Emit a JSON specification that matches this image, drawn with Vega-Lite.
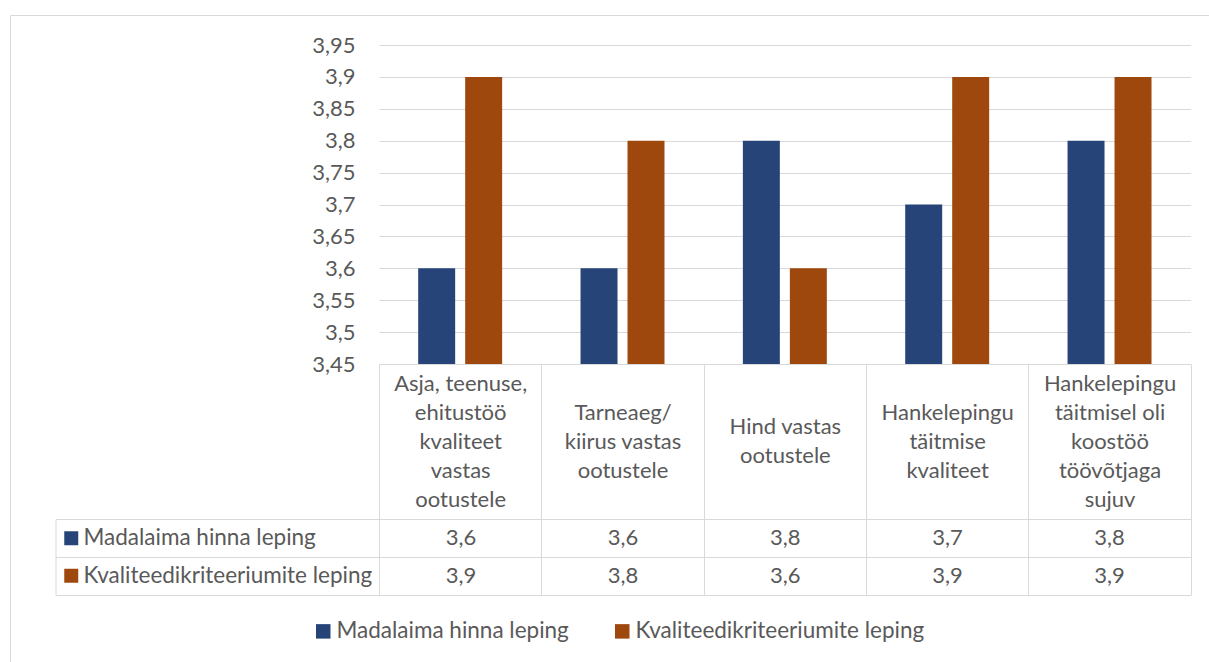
{
  "$schema": "https://vega.github.io/schema/vega-lite/v6.json",
  "width": 1199,
  "height": 647,
  "autosize": {"type": "none"},
  "padding": {"left": 10, "top": 15, "right": 0, "bottom": 0},
  "background": "white",
  "config": {
    "view": {"stroke": "#D9D9D9", "strokeWidth": 1},
    "font": "Lato",
    "locale": {"number": {"decimal": ",", "thousands": "\u00a0", "grouping": [3], "currency": ["", "\u00a0€"]}},
    "axis": {"labelFont": "Lato", "labelFontSize": 22, "labelColor": "#595959"},
    "legend": {"labelFont": "Lato", "labelFontSize": 22.5, "labelColor": "#595959", "labelLimit": 0}
  },
  "data": {"values": [
    {"category": "Asja, teenuse,\nehitustöö\nkvaliteet\nvastas\nootustele", "series": "Madalaima hinna leping", "value": 3.6},
    {"category": "Asja, teenuse,\nehitustöö\nkvaliteet\nvastas\nootustele", "series": "Kvaliteedikriteeriumite leping", "value": 3.9},
    {"category": "Tarneaeg/\nkiirus vastas\nootustele", "series": "Madalaima hinna leping", "value": 3.6},
    {"category": "Tarneaeg/\nkiirus vastas\nootustele", "series": "Kvaliteedikriteeriumite leping", "value": 3.8},
    {"category": "Hind vastas\nootustele", "series": "Madalaima hinna leping", "value": 3.8},
    {"category": "Hind vastas\nootustele", "series": "Kvaliteedikriteeriumite leping", "value": 3.6},
    {"category": "Hankelepingu\ntäitmise\nkvaliteet", "series": "Madalaima hinna leping", "value": 3.7},
    {"category": "Hankelepingu\ntäitmise\nkvaliteet", "series": "Kvaliteedikriteeriumite leping", "value": 3.9},
    {"category": "Hankelepingu\ntäitmisel oli\nkoostöö\ntöövõtjaga\nsujuv", "series": "Madalaima hinna leping", "value": 3.8},
    {"category": "Hankelepingu\ntäitmisel oli\nkoostöö\ntöövõtjaga\nsujuv", "series": "Kvaliteedikriteeriumite leping", "value": 3.9}
  ]},
  "resolve": {"scale": {"x": "independent", "y": "independent"}},
  "layer": [
    {
      "mark": {"type": "bar", "strokeWidth": 0},
      "encoding": {
        "x": {
          "field": "category", "type": "nominal", "sort": null,
          "scale": {"type": "band", "range": [369, 1180.7], "paddingInner": 0, "paddingOuter": 0},
          "axis": {
            "orient": "bottom", "offset": -298, "title": null,
            "domain": true, "domainColor": "#D9D9D9", "domainWidth": 1,
            "ticks": true, "tickBand": "extent", "tickSize": 231, "tickColor": "#D9D9D9", "tickWidth": 1,
            "labelExpr": "split(datum.label, '\\n')", "labelAngle": 0, "labelAlign": "center",
            "labelBaseline": "middle", "labelLineHeight": 29,
            "labelPadding": {"expr": "-154 - (length(split(datum.label, '\\n')) - 1) * 14.5"},
            "labelLimit": 0, "labelOverlap": false, "grid": false
          }
        },
        "xOffset": {"field": "series", "type": "nominal", "sort": null, "scale": {"paddingInner": 0.2128, "paddingOuter": 0.834}},
        "y": {
          "field": "value", "type": "quantitative",
          "scale": {"domain": [3.45, 3.95], "range": [349, 30], "nice": false, "zero": false},
          "axis": {
            "orient": "left", "offset": -369, "title": null,
            "values": [3.45, 3.5, 3.55, 3.6, 3.65, 3.7, 3.75, 3.8, 3.85, 3.9, 3.95],
            "format": ".3~r", "domain": false, "ticks": false, "tickSize": 0, "labelPadding": 24,
            "grid": true, "gridColor": "#D9D9D9", "gridWidth": 1
          }
        },
        "y2": {"datum": 3.45},
        "color": {
          "field": "series", "type": "nominal",
          "scale": {"domain": ["Madalaima hinna leping", "Kvaliteedikriteeriumite leping"], "range": ["#264478", "#9E480E"]},
          "legend": {
            "orient": "none", "direction": "horizontal", "legendX": 302, "legendY": 605, "title": null,
            "symbolType": "square", "symbolSize": 210, "symbolStrokeWidth": 0, "labelOffset": 2,
            "columnPadding": 42, "padding": 0, "labelLimit": 0
          }
        },
        "stroke": {
          "field": "series", "type": "nominal", "sort": null,
          "scale": {"range": ["#264478", "#9E480E"]},
          "legend": {
            "orient": "none", "direction": "vertical", "legendX": 50, "legendY": 512, "title": null,
            "symbolType": "square", "symbolSize": 4, "symbolStrokeWidth": 12, "labelOffset": 1, "rowPadding": -13.5, "padding": 0, "labelLimit": 0
          }
        }
      }
    },
    {
      "mark": {"type": "text", "fontSize": 22, "color": "#595959"},
      "encoding": {
        "x": {
          "field": "category", "type": "nominal", "sort": null, "bandPosition": 0.5,
          "scale": {"type": "band", "range": [45.5, 1180.7], "paddingInner": 0, "paddingOuter": 1, "align": 1},
          "axis": null
        },
        "y": {
          "field": "series", "type": "nominal", "sort": null, "bandPosition": 0.5,
          "scale": {"type": "band", "range": [504, 580], "paddingInner": 0, "paddingOuter": 0},
          "axis": {
            "orient": "left", "offset": -45.5, "title": null, "labels": false, "ticks": false,
            "domain": true, "domainColor": "#D9D9D9", "grid": true, "gridColor": "#D9D9D9", "tickBand": "extent"
          }
        },
        "text": {"field": "value", "type": "quantitative", "format": ".1f"}
      }
    }
  ]
}
